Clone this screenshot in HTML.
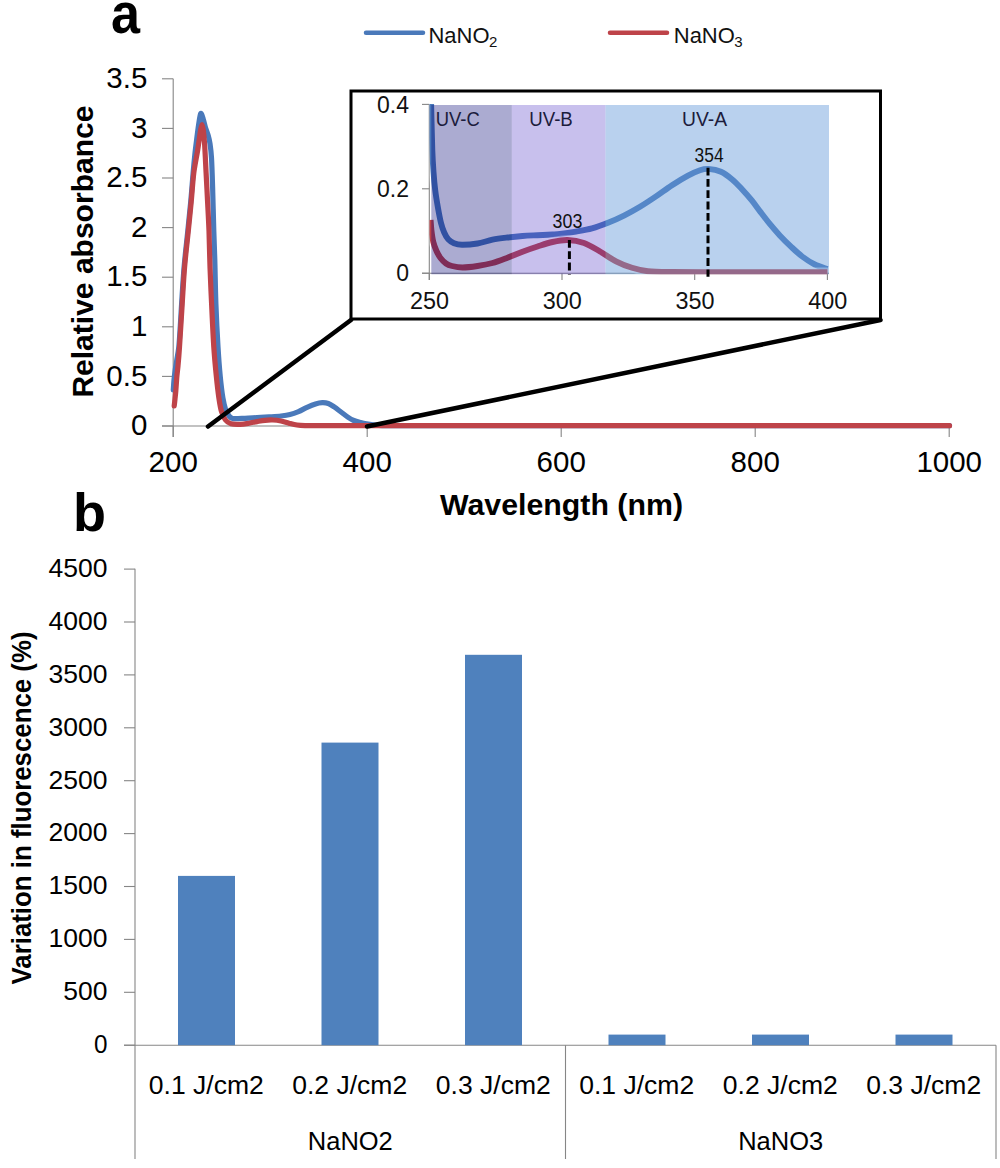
<!DOCTYPE html>
<html><head><meta charset="utf-8"><title>Figure</title>
<style>html,body{margin:0;padding:0;background:#fff;width:1000px;height:1168px;overflow:hidden;font-family:"Liberation Sans",sans-serif}svg{display:block}</style>
</head><body>
<svg width="1000" height="1168" viewBox="0 0 1000 1168">
<rect width="1000" height="1168" fill="#fff"/>
<text x="111" y="33" font-family="Liberation Sans" font-weight="bold" font-size="57" textLength="29" lengthAdjust="spacingAndGlyphs" fill="#000">a</text>
<text x="73" y="531" font-family="Liberation Sans" font-weight="bold" font-size="54" fill="#000">b</text>
<line x1="366" y1="32.7" x2="423" y2="32.7" stroke="#4A79BA" stroke-width="4.5" stroke-linecap="round"/>
<text x="428.5" y="42.8" font-family="Liberation Sans" font-size="21.5" fill="#111"><tspan textLength="61" lengthAdjust="spacingAndGlyphs">NaNO</tspan><tspan x="489" font-size="15" dy="4.2">2</tspan></text>
<line x1="610" y1="32.7" x2="667" y2="32.7" stroke="#BE4349" stroke-width="4.5" stroke-linecap="round"/>
<text x="673.8" y="42.8" font-family="Liberation Sans" font-size="21.5" fill="#111"><tspan textLength="61" lengthAdjust="spacingAndGlyphs">NaNO</tspan><tspan x="734.3" font-size="15" dy="4.2">3</tspan></text>
<g stroke="#868686" stroke-width="1.1" fill="none">
<line x1="173.2" y1="78.8" x2="173.2" y2="437"/>
<line x1="162" y1="426" x2="949" y2="426"/>
<line x1="162" y1="426.0" x2="173.2" y2="426.0"/>
<line x1="162" y1="376.4" x2="173.2" y2="376.4"/>
<line x1="162" y1="326.8" x2="173.2" y2="326.8"/>
<line x1="162" y1="277.2" x2="173.2" y2="277.2"/>
<line x1="162" y1="227.6" x2="173.2" y2="227.6"/>
<line x1="162" y1="178.0" x2="173.2" y2="178.0"/>
<line x1="162" y1="128.4" x2="173.2" y2="128.4"/>
<line x1="162" y1="78.8" x2="173.2" y2="78.8"/>
<line x1="173.2" y1="426" x2="173.2" y2="437"/>
<line x1="367.2" y1="426" x2="367.2" y2="437"/>
<line x1="561.2" y1="426" x2="561.2" y2="437"/>
<line x1="755.2" y1="426" x2="755.2" y2="437"/>
<line x1="949.2" y1="426" x2="949.2" y2="437"/>
</g>
<text x="147.3" y="435.2" text-anchor="end" font-family="Liberation Sans" font-size="29.5" fill="#000">0</text>
<text x="147.3" y="385.6" text-anchor="end" font-family="Liberation Sans" font-size="29.5" fill="#000">0.5</text>
<text x="147.3" y="336.0" text-anchor="end" font-family="Liberation Sans" font-size="29.5" fill="#000">1</text>
<text x="147.3" y="286.4" text-anchor="end" font-family="Liberation Sans" font-size="29.5" fill="#000">1.5</text>
<text x="147.3" y="236.8" text-anchor="end" font-family="Liberation Sans" font-size="29.5" fill="#000">2</text>
<text x="147.3" y="187.2" text-anchor="end" font-family="Liberation Sans" font-size="29.5" fill="#000">2.5</text>
<text x="147.3" y="137.6" text-anchor="end" font-family="Liberation Sans" font-size="29.5" fill="#000">3</text>
<text x="147.3" y="88.0" text-anchor="end" font-family="Liberation Sans" font-size="29.5" fill="#000">3.5</text>
<text x="173.2" y="472.3" text-anchor="middle" font-family="Liberation Sans" font-size="29.5" fill="#000">200</text>
<text x="367.2" y="472.3" text-anchor="middle" font-family="Liberation Sans" font-size="29.5" fill="#000">400</text>
<text x="561.2" y="472.3" text-anchor="middle" font-family="Liberation Sans" font-size="29.5" fill="#000">600</text>
<text x="755.2" y="472.3" text-anchor="middle" font-family="Liberation Sans" font-size="29.5" fill="#000">800</text>
<text x="949.2" y="472.3" text-anchor="middle" font-family="Liberation Sans" font-size="29.5" fill="#000">1000</text>
<text x="440" y="515" font-family="Liberation Sans" font-weight="bold" font-size="29.5" textLength="243" lengthAdjust="spacingAndGlyphs" fill="#000">Wavelength (nm)</text>
<text transform="translate(92.8,397.6) rotate(-90)" font-family="Liberation Sans" font-weight="bold" font-size="29.5" textLength="292" lengthAdjust="spacingAndGlyphs" fill="#000">Relative absorbance</text>
<path d="M173.30,390.00 C173.42,388.33 173.68,383.33 174.00,380.00 C174.32,376.67 174.73,373.32 175.20,370.00 C175.67,366.67 176.28,363.34 176.80,360.00 C177.40,356.17 178.35,351.36 178.80,347.00 C179.38,341.33 179.84,333.00 180.30,326.00 C180.77,318.83 181.13,311.33 181.60,304.00 C182.23,294.17 183.07,279.17 184.10,267.00 C185.12,254.98 186.70,241.83 187.80,231.00 C188.78,221.33 189.82,211.67 190.70,202.00 C191.58,192.34 192.42,180.83 193.10,173.00 C193.62,167.00 194.22,160.50 194.80,155.00 C195.33,149.99 195.97,145.00 196.60,140.00 C197.23,135.00 197.92,129.42 198.60,125.00 C199.20,121.15 199.93,114.50 200.70,113.50 C201.47,112.50 202.56,117.09 203.20,119.00 C204.02,121.42 204.77,125.25 205.60,128.00 C206.37,130.53 207.49,132.95 208.20,135.50 C208.93,138.12 209.59,140.93 210.00,143.70 C210.55,147.45 211.21,153.22 211.50,158.00 C211.93,165.22 212.30,177.33 212.60,187.00 C212.98,199.17 213.43,218.83 213.80,231.00 C214.09,240.67 214.52,250.33 214.80,260.00 C215.15,272.17 215.37,289.50 215.90,304.00 C216.43,318.34 217.28,335.00 218.00,347.00 C218.58,356.68 219.38,367.50 220.20,376.00 C220.91,383.35 221.97,392.33 222.90,398.00 C223.57,402.06 224.70,406.92 225.80,410.00 C226.64,412.35 228.30,415.07 229.50,416.50 C230.37,417.54 231.65,418.44 233.00,418.60 C235.58,418.90 241.00,418.47 245.00,418.30 C249.00,418.13 253.00,417.83 257.00,417.60 C261.00,417.37 265.00,417.17 269.00,416.90 C273.00,416.63 277.50,416.38 281.00,416.00 C284.02,415.67 287.08,415.33 290.00,414.60 C292.91,413.87 295.74,412.79 298.50,411.60 C301.33,410.38 304.17,408.58 307.00,407.30 C309.78,406.04 312.95,404.67 315.50,403.90 C317.70,403.24 320.17,402.77 322.30,402.70 C324.32,402.64 326.40,402.83 328.30,403.50 C330.28,404.20 332.31,405.64 334.20,406.90 C336.32,408.32 338.73,410.30 341.00,412.00 C343.27,413.70 345.67,415.68 347.80,417.10 C349.72,418.37 351.69,419.59 353.80,420.50 C355.93,421.42 358.48,422.03 360.60,422.60 C362.55,423.12 364.52,423.56 366.50,423.90 C368.90,424.32 372.15,424.89 375.00,425.10 C378.92,425.38 385.00,425.60 390.00,425.60 C485.75,425.68 856.25,425.60 949.50,425.60" fill="none" stroke="#4A79BA" stroke-width="5.2" stroke-linejoin="round" stroke-linecap="round"/>
<path d="M174.20,406.00 C174.33,404.83 174.75,401.34 175.00,399.00 C175.27,396.50 175.58,393.67 175.80,391.00 C176.12,387.17 176.53,380.17 176.90,376.00 C177.19,372.66 177.70,369.34 178.00,366.00 C178.43,361.17 179.07,353.34 179.50,347.00 C180.20,336.67 181.35,317.33 182.20,304.00 C182.99,291.67 183.58,279.17 184.60,267.00 C185.60,254.98 187.20,241.83 188.30,231.00 C189.28,221.33 190.28,211.67 191.20,202.00 C192.12,192.34 192.72,181.67 193.80,173.00 C194.76,165.28 196.57,157.17 197.70,150.00 C198.75,143.35 199.88,134.25 200.60,130.00 C200.91,128.13 201.55,124.50 202.00,124.50 C202.45,124.50 203.05,128.13 203.30,130.00 C203.73,133.25 204.30,139.32 204.60,144.00 C205.07,151.17 205.60,163.33 206.10,173.00 C206.60,182.67 207.12,192.33 207.60,202.00 C208.08,211.67 208.64,221.33 209.00,231.00 C209.40,241.83 209.57,255.00 210.00,267.00 C210.43,279.17 211.01,291.67 211.60,304.00 C212.23,317.33 213.02,335.00 213.80,347.00 C214.43,356.68 215.45,367.50 216.30,376.00 C217.03,383.35 218.03,392.08 218.90,398.00 C219.56,402.53 220.40,407.83 221.50,411.50 C222.40,414.50 223.92,417.95 225.50,420.00 C226.86,421.76 228.86,423.17 231.00,423.80 C233.42,424.52 237.00,424.40 240.00,424.30 C243.00,424.20 246.17,423.65 249.00,423.20 C251.69,422.77 254.33,422.08 257.00,421.60 C259.66,421.12 262.33,420.57 265.00,420.30 C267.66,420.03 270.33,419.88 273.00,420.00 C275.67,420.12 278.36,420.47 281.00,421.00 C283.67,421.53 286.33,422.53 289.00,423.20 C291.65,423.86 294.33,424.60 297.00,425.00 C299.64,425.40 302.33,425.52 305.00,425.60 C308.83,425.72 315.00,425.70 320.00,425.70 C427.42,425.72 844.58,425.70 949.50,425.70" fill="none" stroke="#BE4349" stroke-width="5.2" stroke-linejoin="round" stroke-linecap="round"/>
<rect x="351" y="91" width="529.5" height="228" fill="#fff"/>
<g stroke="#868686" stroke-width="1.1" fill="none">
<line x1="429.3" y1="104.4" x2="429.3" y2="280"/>
<line x1="422" y1="273.2" x2="829" y2="273.2"/>
<line x1="422" y1="273.2" x2="429.3" y2="273.2"/>
<line x1="422" y1="188.8" x2="429.3" y2="188.8"/>
<line x1="422" y1="104.4" x2="429.3" y2="104.4"/>
<line x1="429.3" y1="273.2" x2="429.3" y2="280"/>
<line x1="562.0" y1="273.2" x2="562.0" y2="280"/>
<line x1="694.7" y1="273.2" x2="694.7" y2="280"/>
<line x1="827.4" y1="273.2" x2="827.4" y2="280"/>
</g>
<text x="409" y="281.4" text-anchor="end" font-family="Liberation Sans" font-size="23" fill="#111">0</text>
<text x="409" y="197.0" text-anchor="end" font-family="Liberation Sans" font-size="23" fill="#111">0.2</text>
<text x="409" y="112.6" text-anchor="end" font-family="Liberation Sans" font-size="23" fill="#111">0.4</text>
<text x="410.1" y="309" font-family="Liberation Sans" font-size="23" textLength="39" lengthAdjust="spacingAndGlyphs" fill="#111">250</text>
<text x="542.8" y="309" font-family="Liberation Sans" font-size="23" textLength="39" lengthAdjust="spacingAndGlyphs" fill="#111">300</text>
<text x="675.5" y="309" font-family="Liberation Sans" font-size="23" textLength="39" lengthAdjust="spacingAndGlyphs" fill="#111">350</text>
<text x="808.2" y="309" font-family="Liberation Sans" font-size="23" textLength="39" lengthAdjust="spacingAndGlyphs" fill="#111">400</text>
<clipPath id="ic"><rect x="429.5" y="104" width="400" height="170.3"/></clipPath>
<g clip-path="url(#ic)">
<path d="M430.90,95.00 C431.13,104.17 431.87,137.17 432.30,150.00 C432.55,157.34 433.02,165.33 433.50,172.00 C433.94,178.01 434.45,184.02 435.20,190.00 C435.95,196.00 437.03,202.50 438.00,208.00 C438.88,213.02 439.97,218.92 441.00,223.00 C441.82,226.24 443.00,229.78 444.20,232.50 C445.26,234.91 446.57,237.52 448.20,239.30 C449.77,241.02 451.84,242.34 454.00,243.20 C456.30,244.12 459.28,244.77 462.00,244.80 C465.92,244.85 472.42,244.35 477.50,243.50 C482.58,242.65 487.50,240.70 492.50,239.70 C497.46,238.71 502.50,238.12 507.50,237.50 C512.49,236.88 517.50,236.38 522.50,236.00 C527.49,235.62 532.50,235.45 537.50,235.20 C542.50,234.95 548.75,234.70 552.50,234.50 C555.00,234.37 557.51,234.31 560.00,234.00 C563.92,233.52 570.69,232.53 576.00,231.60 C581.33,230.67 586.76,229.84 592.00,228.40 C597.33,226.93 602.75,224.90 608.00,222.80 C613.33,220.67 618.77,218.22 624.00,215.60 C629.33,212.93 634.78,209.93 640.00,206.80 C645.33,203.60 650.73,199.96 656.00,196.40 C661.33,192.80 666.67,188.67 672.00,185.20 C677.21,181.81 683.33,178.10 688.00,175.60 C691.87,173.53 696.60,171.32 700.00,170.20 C702.69,169.32 705.57,168.70 708.40,168.90 C711.90,169.15 717.06,169.96 721.00,171.70 C724.97,173.45 728.72,176.50 732.20,179.40 C735.70,182.32 738.85,185.82 742.00,189.20 C745.27,192.70 748.77,196.67 751.80,200.40 C754.74,204.02 757.37,207.89 760.20,211.60 C763.23,215.57 766.73,220.23 770.00,224.20 C773.15,228.03 776.41,231.78 779.80,235.40 C783.30,239.13 787.27,243.08 791.00,246.60 C794.63,250.02 798.23,253.52 802.20,256.50 C806.17,259.48 810.60,262.42 814.80,264.50 C818.80,266.48 825.30,268.25 827.40,269.00" fill="none" stroke="#fff" stroke-opacity="0.55" stroke-width="9.5" stroke-linejoin="round"/>
<path d="M430.90,95.00 C431.13,104.17 431.87,137.17 432.30,150.00 C432.55,157.34 433.02,165.33 433.50,172.00 C433.94,178.01 434.45,184.02 435.20,190.00 C435.95,196.00 437.03,202.50 438.00,208.00 C438.88,213.02 439.97,218.92 441.00,223.00 C441.82,226.24 443.00,229.78 444.20,232.50 C445.26,234.91 446.57,237.52 448.20,239.30 C449.77,241.02 451.84,242.34 454.00,243.20 C456.30,244.12 459.28,244.77 462.00,244.80 C465.92,244.85 472.42,244.35 477.50,243.50 C482.58,242.65 487.50,240.70 492.50,239.70 C497.46,238.71 502.50,238.12 507.50,237.50 C512.49,236.88 517.50,236.38 522.50,236.00 C527.49,235.62 532.50,235.45 537.50,235.20 C542.50,234.95 548.75,234.70 552.50,234.50 C555.00,234.37 557.51,234.31 560.00,234.00 C563.92,233.52 570.69,232.53 576.00,231.60 C581.33,230.67 586.76,229.84 592.00,228.40 C597.33,226.93 602.75,224.90 608.00,222.80 C613.33,220.67 618.77,218.22 624.00,215.60 C629.33,212.93 634.78,209.93 640.00,206.80 C645.33,203.60 650.73,199.96 656.00,196.40 C661.33,192.80 666.67,188.67 672.00,185.20 C677.21,181.81 683.33,178.10 688.00,175.60 C691.87,173.53 696.60,171.32 700.00,170.20 C702.69,169.32 705.57,168.70 708.40,168.90 C711.90,169.15 717.06,169.96 721.00,171.70 C724.97,173.45 728.72,176.50 732.20,179.40 C735.70,182.32 738.85,185.82 742.00,189.20 C745.27,192.70 748.77,196.67 751.80,200.40 C754.74,204.02 757.37,207.89 760.20,211.60 C763.23,215.57 766.73,220.23 770.00,224.20 C773.15,228.03 776.41,231.78 779.80,235.40 C783.30,239.13 787.27,243.08 791.00,246.60 C794.63,250.02 798.23,253.52 802.20,256.50 C806.17,259.48 810.60,262.42 814.80,264.50 C818.80,266.48 825.30,268.25 827.40,269.00" fill="none" stroke="#4A79BA" stroke-width="5.9" stroke-linejoin="round"/>
<path d="M430.60,220.00 C430.73,221.67 430.99,226.68 431.40,230.00 C431.85,233.67 432.45,238.50 433.30,242.00 C434.05,245.09 435.30,248.33 436.50,251.00 C437.60,253.45 438.92,255.92 440.50,258.00 C442.07,260.06 444.08,262.17 446.00,263.50 C447.78,264.74 449.89,265.49 452.00,266.00 C454.75,266.67 458.96,267.50 462.50,267.50 C466.75,267.50 472.53,266.75 477.50,266.00 C482.50,265.25 487.59,264.36 492.50,263.00 C497.50,261.62 502.54,259.57 507.50,257.70 C512.50,255.82 517.50,253.57 522.50,251.70 C527.46,249.85 532.50,248.12 537.50,246.50 C542.47,244.89 547.50,243.08 552.50,242.00 C557.43,240.93 562.46,239.84 567.50,240.00 C572.75,240.17 578.73,241.14 584.00,243.00 C589.42,244.92 594.76,248.50 600.00,251.50 C605.33,254.55 610.67,258.58 616.00,261.30 C621.13,263.91 626.67,266.15 632.00,267.80 C637.21,269.41 642.58,270.63 648.00,271.20 C654.67,271.90 664.00,271.89 672.00,272.00 C684.00,272.17 704.00,272.18 720.00,272.20 C745.92,272.23 809.58,272.20 827.50,272.20" fill="none" stroke="#fff" stroke-opacity="0.55" stroke-width="9.5" stroke-linejoin="round"/>
<path d="M430.60,220.00 C430.73,221.67 430.99,226.68 431.40,230.00 C431.85,233.67 432.45,238.50 433.30,242.00 C434.05,245.09 435.30,248.33 436.50,251.00 C437.60,253.45 438.92,255.92 440.50,258.00 C442.07,260.06 444.08,262.17 446.00,263.50 C447.78,264.74 449.89,265.49 452.00,266.00 C454.75,266.67 458.96,267.50 462.50,267.50 C466.75,267.50 472.53,266.75 477.50,266.00 C482.50,265.25 487.59,264.36 492.50,263.00 C497.50,261.62 502.54,259.57 507.50,257.70 C512.50,255.82 517.50,253.57 522.50,251.70 C527.46,249.85 532.50,248.12 537.50,246.50 C542.47,244.89 547.50,243.08 552.50,242.00 C557.43,240.93 562.46,239.84 567.50,240.00 C572.75,240.17 578.73,241.14 584.00,243.00 C589.42,244.92 594.76,248.50 600.00,251.50 C605.33,254.55 610.67,258.58 616.00,261.30 C621.13,263.91 626.67,266.15 632.00,267.80 C637.21,269.41 642.58,270.63 648.00,271.20 C654.67,271.90 664.00,271.89 672.00,272.00 C684.00,272.17 704.00,272.18 720.00,272.20 C745.92,272.23 809.58,272.20 827.50,272.20" fill="none" stroke="#BE4349" stroke-width="5.9" stroke-linejoin="round"/>
</g>
<rect x="431.3" y="105" width="80.5" height="169.3" fill="#000073" fill-opacity="0.33"/>
<rect x="511.8" y="105" width="93.7" height="169.3" fill="#482DC3" fill-opacity="0.3"/>
<rect x="605.5" y="105" width="223.5" height="169.3" fill="#6399D9" fill-opacity="0.45"/>
<text x="435.7" y="126.2" font-family="Liberation Sans" font-size="19.3" textLength="44" lengthAdjust="spacingAndGlyphs" fill="#1c1c3c">UV-C</text>
<text x="529.3" y="126.2" font-family="Liberation Sans" font-size="19.3" textLength="43.5" lengthAdjust="spacingAndGlyphs" fill="#1c1c3c">UV-B</text>
<text x="682" y="126.2" font-family="Liberation Sans" font-size="19.3" textLength="45" lengthAdjust="spacingAndGlyphs" fill="#1c1c3c">UV-A</text>
<line x1="569.4" y1="240" x2="569.4" y2="274.5" stroke="#000" stroke-width="3" stroke-dasharray="7.8,3.5"/>
<line x1="708" y1="167.7" x2="708" y2="276.7" stroke="#000" stroke-width="3" stroke-dasharray="7.8,3.5"/>
<text x="552.6" y="228.1" font-family="Liberation Sans" font-size="19.5" textLength="29.8" lengthAdjust="spacingAndGlyphs" fill="#111">303</text>
<text x="694.6" y="161.6" font-family="Liberation Sans" font-size="19.5" textLength="29" lengthAdjust="spacingAndGlyphs" fill="#111">354</text>
<rect x="351" y="91" width="529.5" height="228" fill="none" stroke="#000" stroke-width="3"/>
<line x1="351" y1="320" x2="208" y2="426.5" stroke="#000" stroke-width="4.5" stroke-linecap="round"/>
<line x1="880.5" y1="320" x2="367" y2="426.5" stroke="#000" stroke-width="4.5" stroke-linecap="round"/>
<g stroke="#868686" stroke-width="1.1" fill="none">
<line x1="135" y1="568.8" x2="135" y2="1159"/>
<line x1="124" y1="1045.2" x2="996" y2="1045.2"/>
<line x1="565.5" y1="1045.2" x2="565.5" y2="1159"/>
<line x1="996" y1="1045.2" x2="996" y2="1159"/>
<line x1="124" y1="1045.2" x2="135" y2="1045.2"/>
<line x1="124" y1="992.3" x2="135" y2="992.3"/>
<line x1="124" y1="939.4" x2="135" y2="939.4"/>
<line x1="124" y1="886.5" x2="135" y2="886.5"/>
<line x1="124" y1="833.6" x2="135" y2="833.6"/>
<line x1="124" y1="780.7" x2="135" y2="780.7"/>
<line x1="124" y1="727.8" x2="135" y2="727.8"/>
<line x1="124" y1="674.9" x2="135" y2="674.9"/>
<line x1="124" y1="622.0" x2="135" y2="622.0"/>
<line x1="124" y1="569.1" x2="135" y2="569.1"/>
</g>
<text x="94.0" y="1053.0" font-family="Liberation Sans" font-size="25" textLength="13.5" lengthAdjust="spacingAndGlyphs" fill="#000">0</text>
<text x="63.3" y="1000.1" font-family="Liberation Sans" font-size="25" textLength="44.2" lengthAdjust="spacingAndGlyphs" fill="#000">500</text>
<text x="48.5" y="947.2" font-family="Liberation Sans" font-size="25" textLength="59" lengthAdjust="spacingAndGlyphs" fill="#000">1000</text>
<text x="48.5" y="894.3" font-family="Liberation Sans" font-size="25" textLength="59" lengthAdjust="spacingAndGlyphs" fill="#000">1500</text>
<text x="48.5" y="841.4" font-family="Liberation Sans" font-size="25" textLength="59" lengthAdjust="spacingAndGlyphs" fill="#000">2000</text>
<text x="48.5" y="788.5" font-family="Liberation Sans" font-size="25" textLength="59" lengthAdjust="spacingAndGlyphs" fill="#000">2500</text>
<text x="48.5" y="735.6" font-family="Liberation Sans" font-size="25" textLength="59" lengthAdjust="spacingAndGlyphs" fill="#000">3000</text>
<text x="48.5" y="682.7" font-family="Liberation Sans" font-size="25" textLength="59" lengthAdjust="spacingAndGlyphs" fill="#000">3500</text>
<text x="48.5" y="629.8" font-family="Liberation Sans" font-size="25" textLength="59" lengthAdjust="spacingAndGlyphs" fill="#000">4000</text>
<text x="48.5" y="576.9" font-family="Liberation Sans" font-size="25" textLength="59" lengthAdjust="spacingAndGlyphs" fill="#000">4500</text>
<rect x="178.0" y="875.9" width="57" height="169.3" fill="#4F81BD"/>
<text x="148.8" y="1093.5" font-family="Liberation Sans" font-size="25.5" textLength="115" lengthAdjust="spacingAndGlyphs" fill="#000">0.1 J/cm2</text>
<rect x="321.5" y="742.6" width="57" height="302.6" fill="#4F81BD"/>
<text x="292.2" y="1093.5" font-family="Liberation Sans" font-size="25.5" textLength="115" lengthAdjust="spacingAndGlyphs" fill="#000">0.2 J/cm2</text>
<rect x="465.0" y="654.8" width="57" height="390.4" fill="#4F81BD"/>
<text x="435.8" y="1093.5" font-family="Liberation Sans" font-size="25.5" textLength="115" lengthAdjust="spacingAndGlyphs" fill="#000">0.3 J/cm2</text>
<rect x="608.5" y="1034.6" width="57" height="10.6" fill="#4F81BD"/>
<text x="579.2" y="1093.5" font-family="Liberation Sans" font-size="25.5" textLength="115" lengthAdjust="spacingAndGlyphs" fill="#000">0.1 J/cm2</text>
<rect x="752.0" y="1034.6" width="57" height="10.6" fill="#4F81BD"/>
<text x="722.8" y="1093.5" font-family="Liberation Sans" font-size="25.5" textLength="115" lengthAdjust="spacingAndGlyphs" fill="#000">0.2 J/cm2</text>
<rect x="895.5" y="1034.6" width="57" height="10.6" fill="#4F81BD"/>
<text x="866.2" y="1093.5" font-family="Liberation Sans" font-size="25.5" textLength="115" lengthAdjust="spacingAndGlyphs" fill="#000">0.3 J/cm2</text>
<text x="307.8" y="1149.6" font-family="Liberation Sans" font-size="25.5" textLength="85" lengthAdjust="spacingAndGlyphs" fill="#000">NaNO2</text>
<text x="738.2" y="1149.6" font-family="Liberation Sans" font-size="25.5" textLength="85" lengthAdjust="spacingAndGlyphs" fill="#000">NaNO3</text>
<text transform="translate(31.3,984.5) rotate(-90)" font-family="Liberation Sans" font-weight="bold" font-size="27" textLength="353" lengthAdjust="spacingAndGlyphs" fill="#000">Variation in fluorescence (%)</text>
</svg>
</body></html>
